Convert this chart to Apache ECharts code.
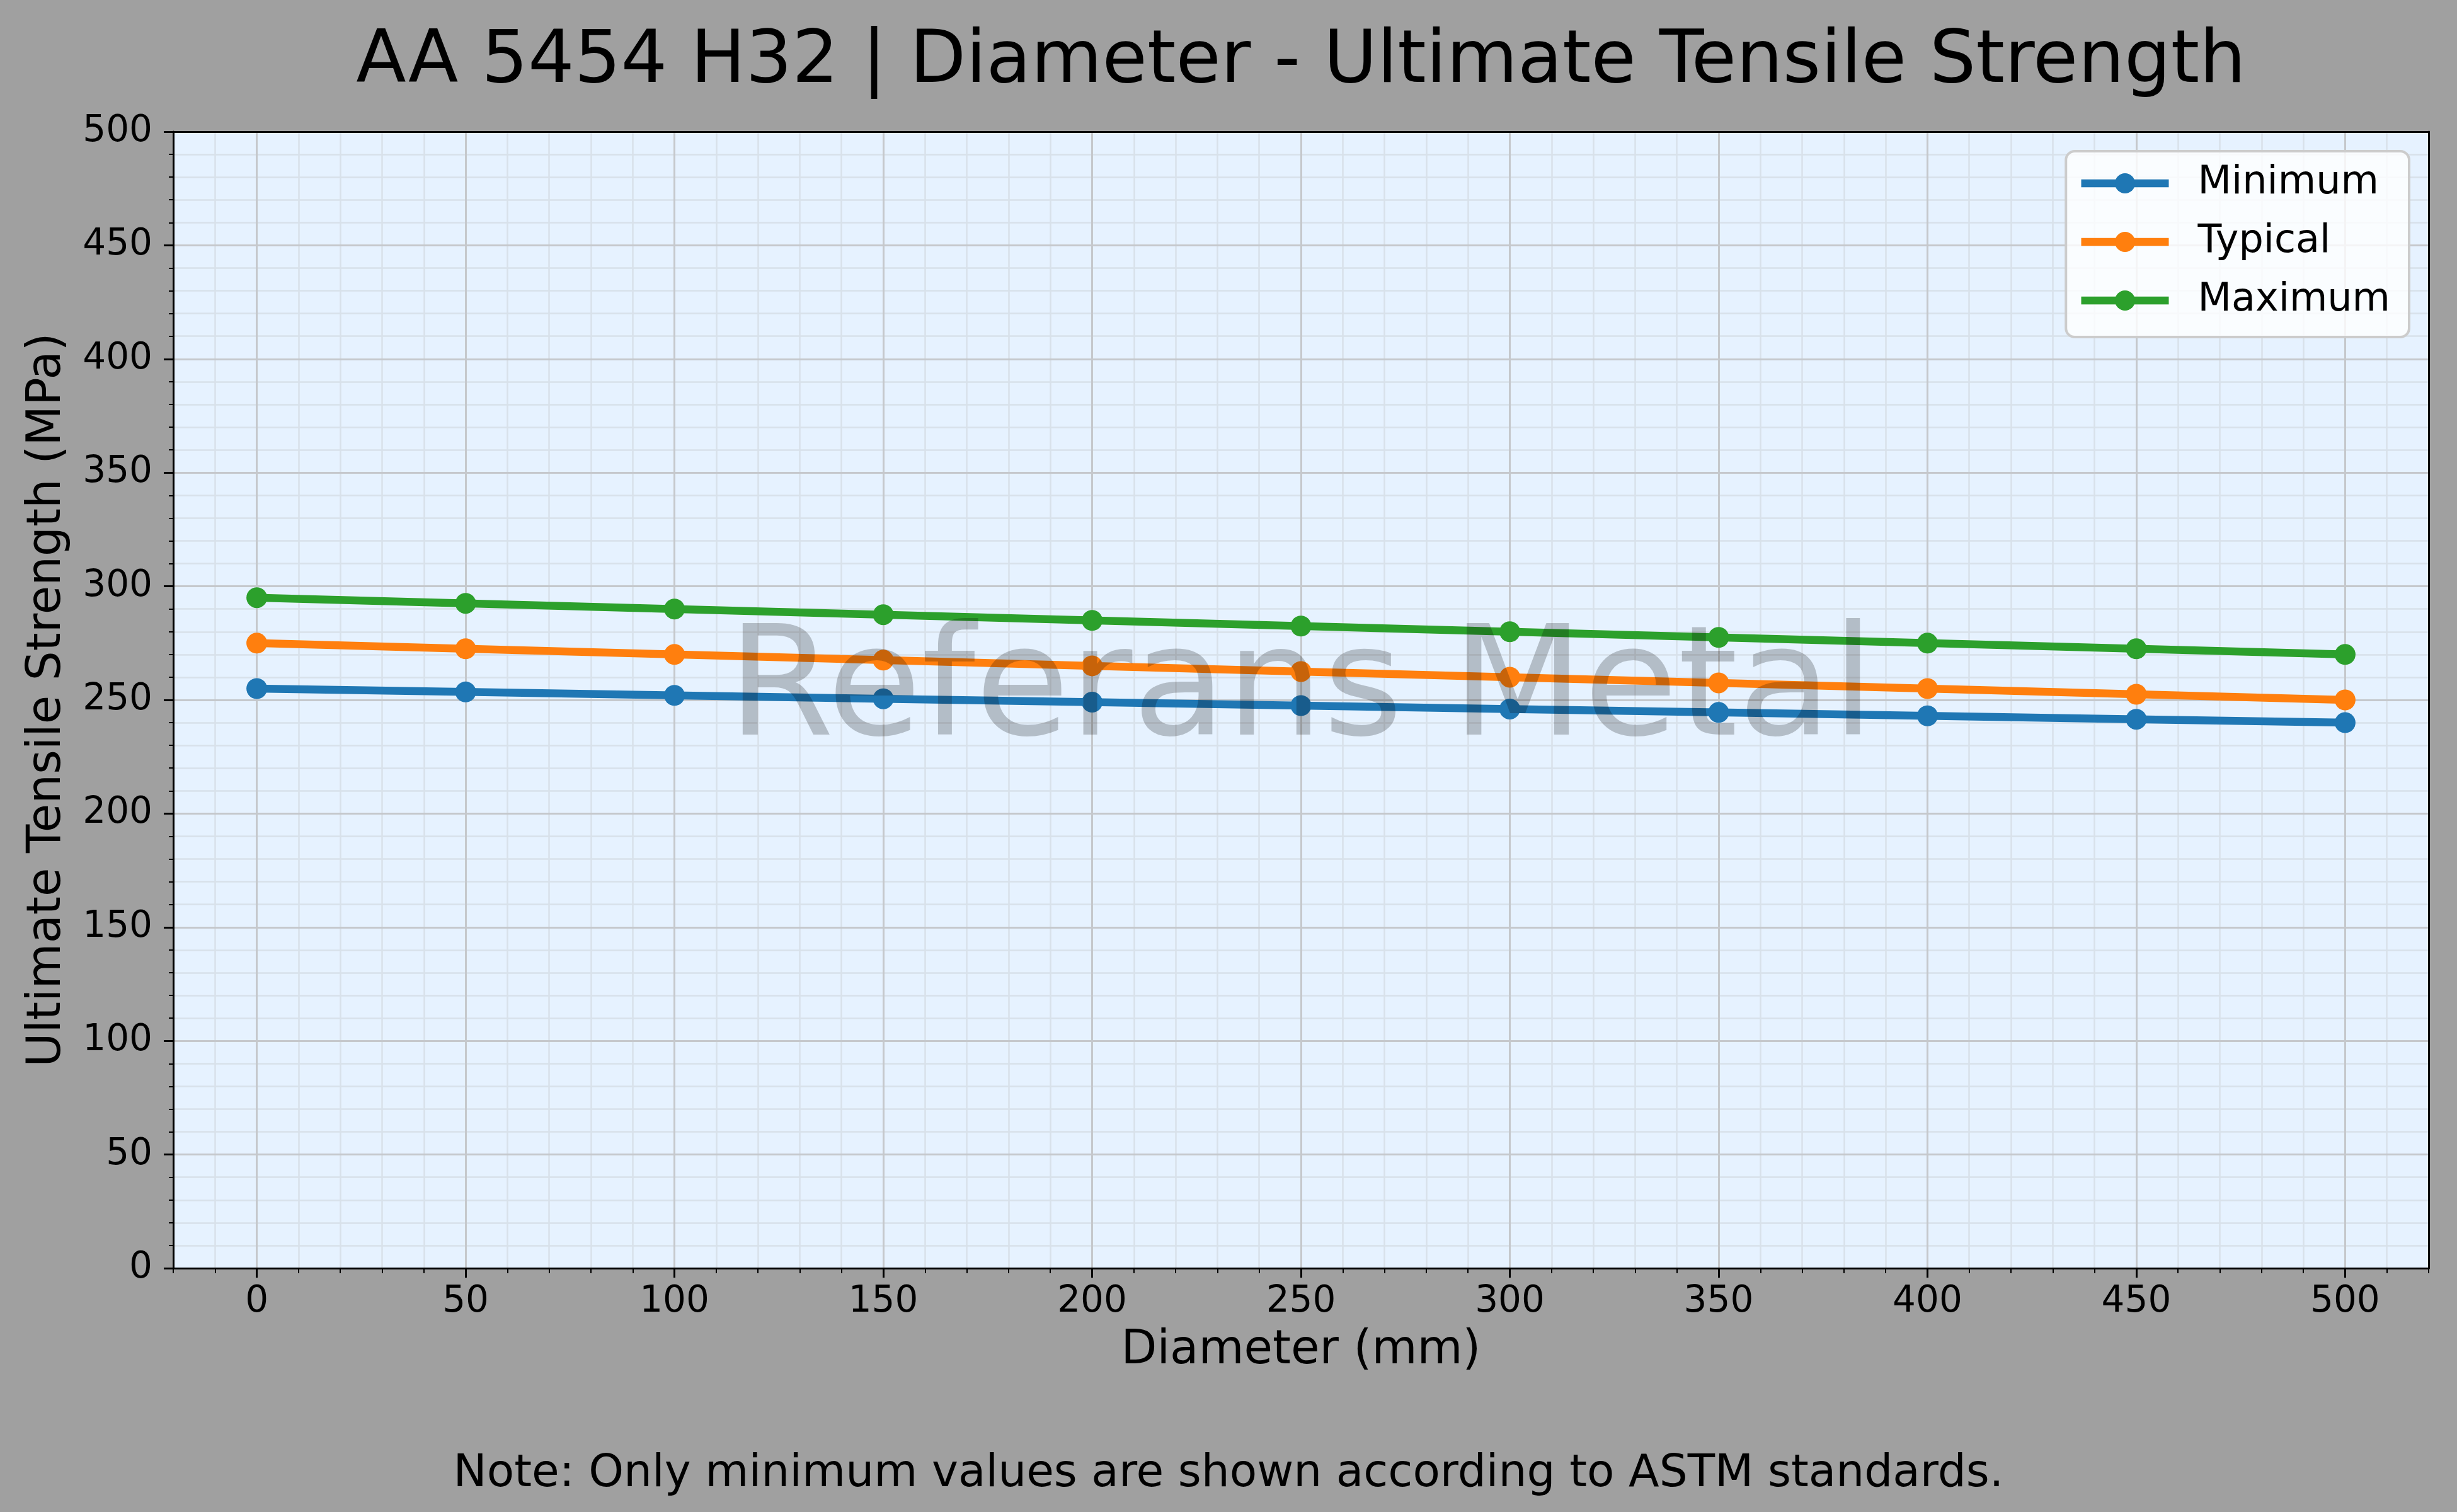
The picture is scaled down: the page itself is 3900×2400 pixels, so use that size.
<!DOCTYPE html>
<html>
<head>
<meta charset="utf-8">
<title>AA 5454 H32 | Diameter - Ultimate Tensile Strength</title>
<script src="https://cdn.jsdelivr.net/npm/echarts@6/dist/echarts.min.js"></script>
<style>
  html, body { margin: 0; padding: 0; background: #a0a0a0; }
  #chart { width: 3900px; height: 2400px; }
</style>
</head>
<body>
<div id="chart"></div>
<script>
// values
const diameters = [0, 50, 100, 150, 200, 250, 300, 350, 400, 450, 500]
const minimum = [255, 253.5, 252, 250.5, 249, 247.5, 246, 244.5, 243, 241.5, 240]
const typical = [275, 272.5, 270, 267.5, 265, 262.5, 260, 257.5, 255, 252.5, 250]
const maximum = [295, 292.5, 290, 287.5, 285, 282.5, 280, 277.5, 275, 272.5, 270]
const xTicks = [0, 50, 100, 150, 200, 250, 300, 350, 400, 450, 500]

const seriesNames = ['Minimum', 'Typical', 'Maximum']
const seriesColors = ['#1f77b4', '#ff7f0e', '#2ca02c']

const font = 'DejaVu Sans'
const majorGrid = '#c5c8cc'
const minorGrid = '#d8e1ea'

const pairs = (ys) => diameters.map((d, i) => [d, ys[i]])

const makeLine = (name, ys, color) => ({
  name: name,
  type: 'line',
  xAxisIndex: 1,
  yAxisIndex: 0,
  data: pairs(ys),
  symbol: 'circle',
  symbolSize: 33,
  lineStyle: { width: 12.5, color: color },
  itemStyle: { color: color },
  z: 6
})

const chart = echarts.init(document.getElementById('chart'))

const option = {
  animation: false,
  backgroundColor: '#a0a0a0',
  textStyle: { fontFamily: font, color: '#000' },
  grid: {
    left: 275,
    right: 45,
    top: 209,
    bottom: 387,
    show: true,
    backgroundColor: '#e6f2ff',
    borderWidth: 0
  },
  xAxis: [
    // minor ticks / minor grid every 10
    {
      type: 'value',
      min: -20,
      max: 520,
      interval: 10,
      position: 'bottom',
      axisLine: { show: false, onZero: false },
      axisTick: { show: true, length: 8, lineStyle: { color: '#000', width: 2 } },
      axisLabel: { show: false },
      splitLine: { show: true, lineStyle: { color: minorGrid, width: 2.5 } },
      z: 1
    },
    // major ticks, labels and grid
    {
      type: 'value',
      min: -20,
      max: 520,
      position: 'bottom',
      axisLine: { show: true, onZero: false, lineStyle: { color: '#000', width: 3 } },
      axisTick: { show: true, customValues: xTicks, length: 15, lineStyle: { color: '#000', width: 3 } },
      axisLabel: { customValues: xTicks, fontSize: 58, color: '#000', margin: 25, fontFamily: font },
      splitLine: { show: true, lineStyle: { color: majorGrid, width: 3 } },
      name: 'Diameter (mm)',
      nameLocation: 'middle',
      nameGap: 95,
      nameTextStyle: { fontSize: 74, color: '#000', fontFamily: font },
      z: 4
    },
    // top spine
    {
      type: 'value',
      min: -20,
      max: 520,
      position: 'top',
      axisLine: { show: true, onZero: false, lineStyle: { color: '#000', width: 3 } },
      axisTick: { show: false },
      axisLabel: { show: false },
      splitLine: { show: false },
      z: 8
    }
  ],
  yAxis: [
    {
      type: 'value',
      min: 0,
      max: 500,
      interval: 50,
      position: 'left',
      axisLine: { show: true, onZero: false, lineStyle: { color: '#000', width: 3 } },
      axisTick: { show: true, length: 15, lineStyle: { color: '#000', width: 3 } },
      minorTick: { show: true, splitNumber: 5, length: 7, lineStyle: { color: '#000', width: 2 } },
      axisLabel: { fontSize: 58, color: '#000', margin: 33, fontFamily: font },
      splitLine: { show: true, lineStyle: { color: majorGrid, width: 3 } },
      minorSplitLine: { show: true, lineStyle: { color: minorGrid, width: 2.5 } },
      name: 'Ultimate Tensile Strength (MPa)',
      nameLocation: 'middle',
      nameGap: 162,
      nameTextStyle: { fontSize: 74, color: '#000', fontFamily: font },
      z: 3
    },
    // right spine
    {
      type: 'value',
      min: 0,
      max: 500,
      position: 'right',
      axisLine: { show: true, onZero: false, lineStyle: { color: '#000', width: 3 } },
      axisTick: { show: false },
      axisLabel: { show: false },
      splitLine: { show: false },
      z: 8
    }
  ],
  legend: {
    data: seriesNames,
    orient: 'vertical',
    right: 76,
    top: 240,
    itemWidth: 139,
    itemHeight: 40,
    itemGap: 31,
    padding: [20, 30, 27, 18],
    backgroundColor: 'rgba(255,255,255,0.8)',
    borderColor: '#cccccc',
    borderWidth: 4,
    borderRadius: 14,
    lineStyle: { width: 12.5 },
    textStyle: { fontSize: 62, lineHeight: 62, color: '#000', fontFamily: font, padding: [0, 0, 0, 41] },
    z: 20
  },
  graphic: [
    {
      type: 'text',
      x: 2065,
      y: 100,
      style: {
        text: 'AA 5454 H32 | Diameter - Ultimate Tensile Strength',
        fontSize: 116,
        fontFamily: font,
        fill: '#000',
        align: 'center',
        verticalAlign: 'middle'
      },
      z: 30
    },
    {
      // watermark sits on top of the lines
      type: 'text',
      x: 2065,
      y: 1103,
      style: {
        text: 'Referans Metal',
        fontSize: 243,
        fontFamily: font,
        fill: 'rgba(0,0,0,0.22)',
        align: 'center',
        verticalAlign: 'middle'
      },
      z: 30
    },
    {
      type: 'text',
      x: 1950,
      y: 2341,
      style: {
        text: 'Note: Only minimum values are shown according to ASTM standards.',
        fontSize: 71,
        fontFamily: font,
        fill: '#000',
        align: 'center',
        verticalAlign: 'middle'
      },
      z: 30
    }
  ],
  series: [
    makeLine(seriesNames[0], minimum, seriesColors[0]),
    makeLine(seriesNames[1], typical, seriesColors[1]),
    makeLine(seriesNames[2], maximum, seriesColors[2])
  ]
}

chart.setOption(option)
</script>
</body>
</html>
